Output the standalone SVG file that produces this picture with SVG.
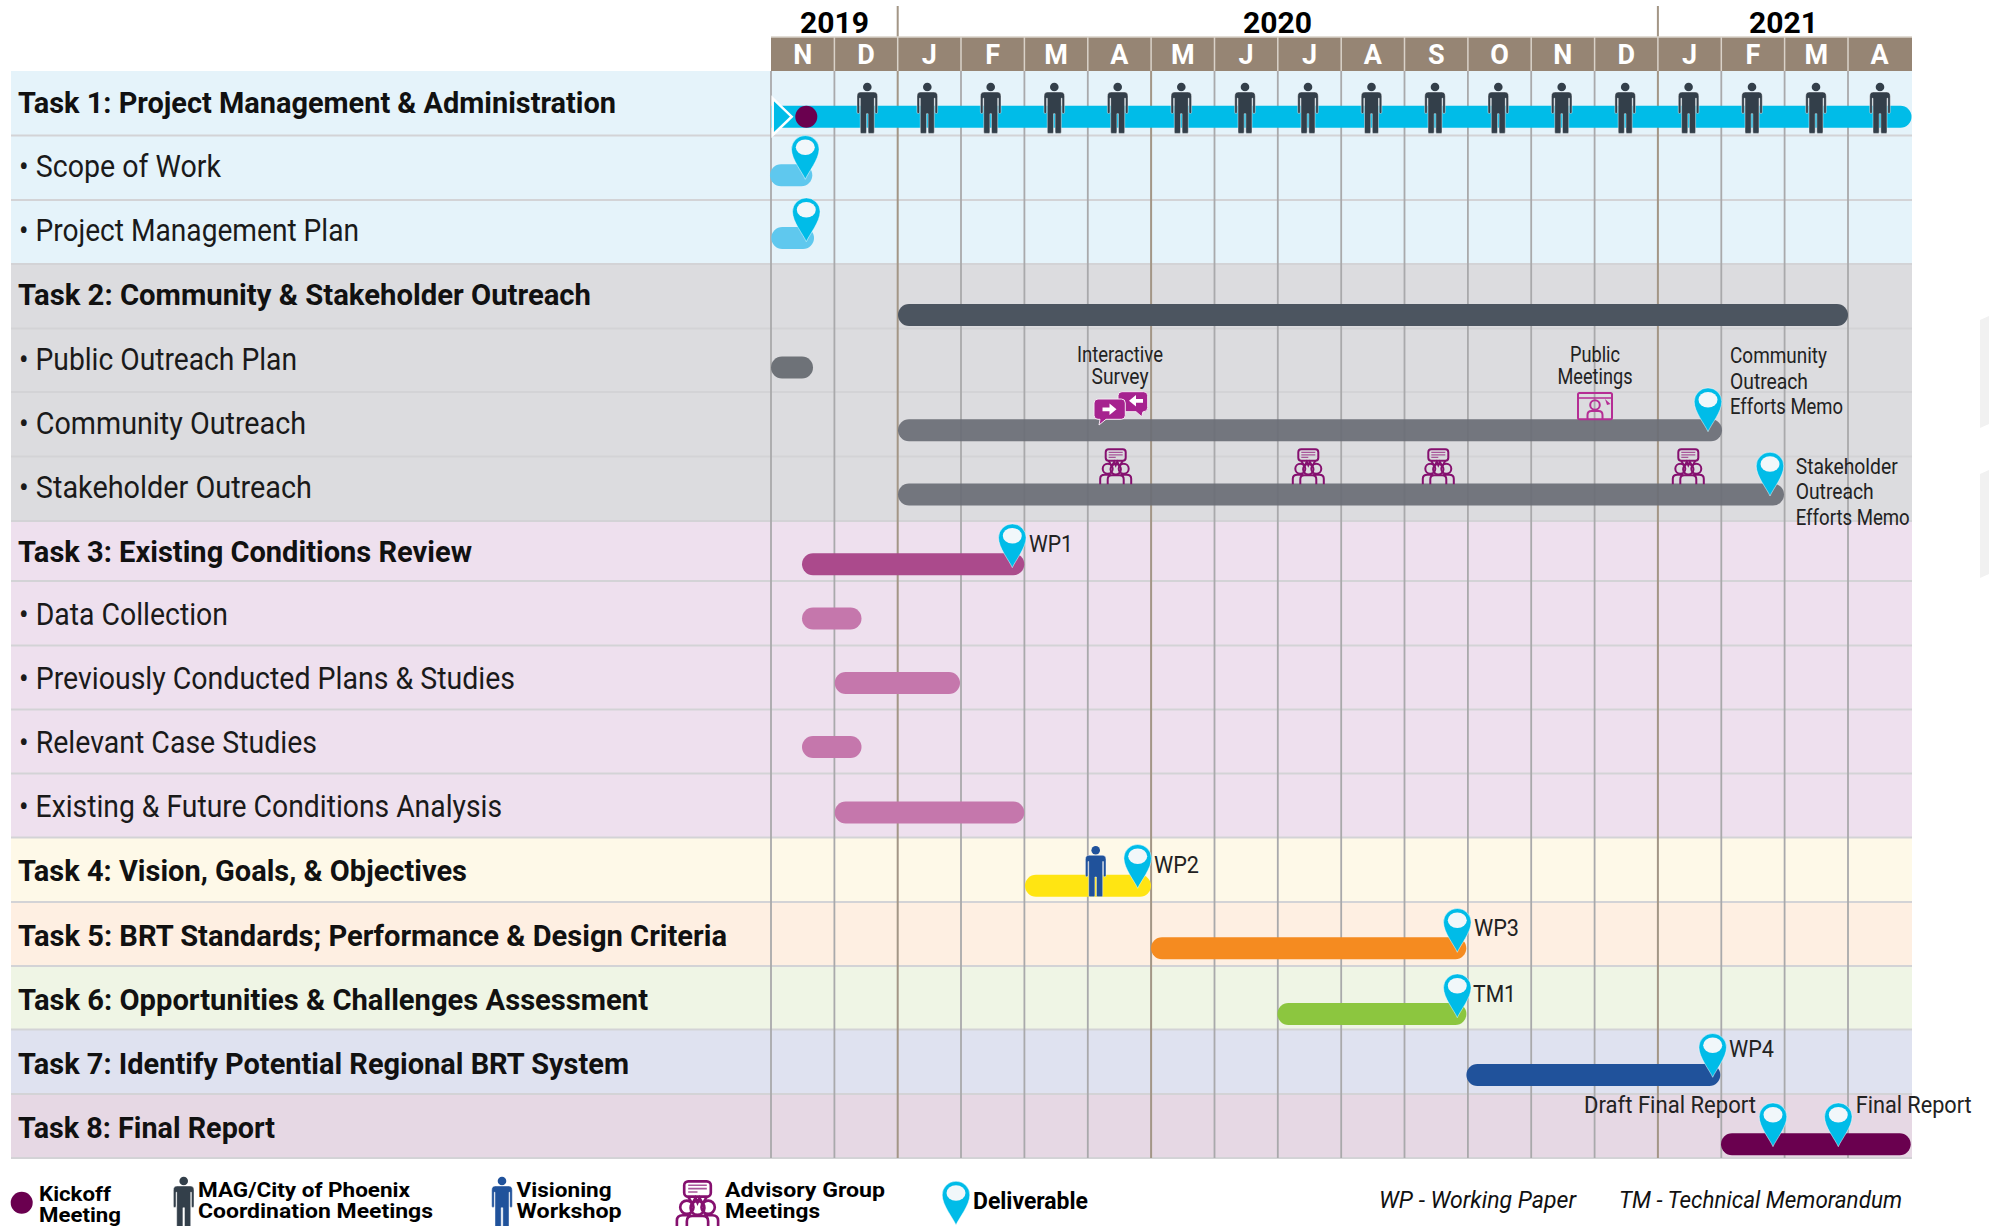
<svg xmlns="http://www.w3.org/2000/svg" width="1989" height="1226" viewBox="0 0 1989 1226">
<style>
text{font-family:"Roboto","Liberation Sans",sans-serif;fill:#111}
.t{font-size:30px;font-weight:700}
.s{font-size:31px;font-weight:400;fill:#1a1a1a}
.l{font-size:22px;font-weight:400;fill:#222}
.r{font-size:24px;font-weight:400;fill:#222}
.m{font-size:27px;font-weight:700;fill:#fff;text-anchor:middle}
.y{font-size:30px;font-weight:700;fill:#000}
.g{font-size:20.5px;font-weight:700;fill:#000}
.d{font-size:23px;font-weight:700;fill:#000}
.i{font-size:24px;font-style:italic;fill:#111}
.v{stroke:#a9a9ab;stroke-width:1.8;fill:none}
.vb{stroke:#a39686;stroke-width:2;fill:none}
.h{stroke:#d3d3d6;stroke-width:1.8;fill:none}
.gr{fill:none;stroke:#85106f;stroke-width:2}
.b{stroke:#b52d94;stroke-width:2;fill:none}
</style>
<defs>
<g id="person"><circle cx="0" cy="4.3" r="4.3"/><path d="M-6.5 9.3H6.5Q10.3 9.3 10.3 13.5V29.5a1.3 1.3 0 0 1-2.6 0V15.5H7V49.5a1.2 1.2 0 0 1-1.2 1.2H2a1.2 1.2 0 0 1-1.2-1.2V31H-.8V49.5a1.2 1.2 0 0 1-1.2 1.2H-5.8a1.2 1.2 0 0 1-1.2-1.2V15.5H-7.7V29.5a1.3 1.3 0 0 1-2.6 0V13.5Q-10.3 9.3-6.5 9.3Z" stroke="#fff" stroke-opacity=".55" stroke-width=".8"/></g>
<g id="pin"><path d="M0 0C-3-7-13.8-20-13.8-30A13.8 13.8 0 1 1 13.8-30C13.8-20 3-7 0 0Z" fill="#00bce8" stroke="#fff" stroke-opacity=".6" stroke-width=".8"/><ellipse cx="0" cy="-32" rx="9.5" ry="7.8" fill="#f1f7fa"/></g>
<g id="group"><rect x="-10" y="1" width="20" height="11.5" rx="3" class="gr"/><path d="M-7 12.5L-4 18-1.5 13.5 0 17 1.5 13.5 4 18 7 12.5" class="gr"/><path d="M-7 4H7M-7 6.500H7M-7 9H0" fill="none" stroke="#a8559a" stroke-width="1.2"/><circle cx="0" cy="21" r="5.2" class="gr"/><circle cx="-8" cy="20.5" r="5" class="gr"/><circle cx="8" cy="20.5" r="5" class="gr"/><path d="M-15.5 36V30.5Q-15.5 26.5-11 26.5H-5M15.5 36V30.5Q15.5 26.5 11 26.5H5M-8 36V31Q-8 27-4 27H4Q8 27 8 31V36" class="gr"/></g>
</defs>

<g id="rows">
<rect x="11" y="71" width="1901" height="193" fill="#e5f3fa"/>
<rect x="11" y="264" width="1901" height="257" fill="#dcdcdf"/>
<rect x="11" y="521" width="1901" height="316" fill="#eee0ee"/>
<rect x="11" y="837" width="1901" height="65" fill="#fef9e8"/>
<rect x="11" y="902" width="1901" height="64" fill="#feefe2"/>
<rect x="11" y="966" width="1901" height="64" fill="#eff5e5"/>
<rect x="11" y="1030" width="1901" height="64" fill="#dfe2f0"/>
<rect x="11" y="1094" width="1901" height="64" fill="#e6d8e4"/>
<path class="h" d="M11 135.500H1912M11 200H1912M11 264H1912M11 328.500H1912M11 392H1912M11 456.500H1912M11 521H1912M11 581H1912M11 645.500H1912M11 709.500H1912M11 773.500H1912M11 837.500H1912M11 902H1912M11 966H1912M11 1029.500H1912M11 1094H1912M11 1158H1912"/>
</g>

<g id="grid">
<path class="v" d="M771 71V1158M834.400 71V1158M961 71V1158M1024.400 71V1158M1087.800 71V1158M1214.500 71V1158M1277.800 71V1158M1341.200 71V1158M1404.500 71V1158M1467.900 71V1158M1531.200 71V1158M1594.600 71V1158M1721.300 71V1158M1784.600 71V1158M1848 71V1158"/>
<path class="vb" d="M897.700 6V1158M1151.100 71V1158M1657.900 6V1158"/>
</g>

<g id="header">
<rect x="771" y="37" width="1141" height="34" fill="#968574"/>
<path d="M771 37H1912M834.400 37V71M897.700 37V71M961 37V71M1024.400 37V71M1087.800 37V71M1151.100 37V71M1214.500 37V71M1277.800 37V71M1341.200 37V71M1404.500 37V71M1467.900 37V71M1531.200 37V71M1594.600 37V71M1657.900 37V71M1721.300 37V71M1784.600 37V71M1848 37V71" stroke="#d9d2c9" stroke-width="1.5" fill="none"/>
<text class="y" x="800" y="33" textLength="69" lengthAdjust="spacingAndGlyphs">2019</text>
<text class="y" x="1243" y="33" textLength="69" lengthAdjust="spacingAndGlyphs">2020</text>
<text class="y" x="1749" y="33" textLength="69" lengthAdjust="spacingAndGlyphs">2021</text>
<text class="m" x="802.700" y="63.500">N</text><text class="m" x="866" y="63.500">D</text><text class="m" x="929.400" y="63.500">J</text><text class="m" x="992.700" y="63.500">F</text><text class="m" x="1056.100" y="63.500">M</text><text class="m" x="1119.400" y="63.500">A</text><text class="m" x="1182.800" y="63.500">M</text><text class="m" x="1246.100" y="63.500">J</text><text class="m" x="1309.500" y="63.500">J</text><text class="m" x="1372.800" y="63.500">A</text><text class="m" x="1436.200" y="63.500">S</text><text class="m" x="1499.500" y="63.500">O</text><text class="m" x="1562.900" y="63.500">N</text><text class="m" x="1626.200" y="63.500">D</text><text class="m" x="1689.600" y="63.500">J</text><text class="m" x="1752.900" y="63.500">F</text><text class="m" x="1816.300" y="63.500">M</text><text class="m" x="1879.600" y="63.500">A</text>
</g>

<g id="labels">
<text class="t" x="18" y="112.500" textLength="598" lengthAdjust="spacingAndGlyphs">Task 1: Project Management &amp; Administration</text>
<text class="s" x="19" y="176.500" textLength="202" lengthAdjust="spacingAndGlyphs">• Scope of Work</text>
<text class="s" x="19" y="241" textLength="340" lengthAdjust="spacingAndGlyphs">• Project Management Plan</text>
<text class="t" x="18" y="305" textLength="573" lengthAdjust="spacingAndGlyphs">Task 2: Community &amp; Stakeholder Outreach</text>
<text class="s" x="19" y="370" textLength="278" lengthAdjust="spacingAndGlyphs">• Public Outreach Plan</text>
<text class="s" x="19" y="434" textLength="287" lengthAdjust="spacingAndGlyphs">• Community Outreach</text>
<text class="s" x="19" y="498" textLength="293" lengthAdjust="spacingAndGlyphs">• Stakeholder Outreach</text>
<text class="t" x="18" y="562" textLength="454" lengthAdjust="spacingAndGlyphs">Task 3: Existing Conditions Review</text>
<text class="s" x="19" y="625" textLength="209" lengthAdjust="spacingAndGlyphs">• Data Collection</text>
<text class="s" x="19" y="689" textLength="496" lengthAdjust="spacingAndGlyphs">• Previously Conducted Plans &amp; Studies</text>
<text class="s" x="19" y="753" textLength="298" lengthAdjust="spacingAndGlyphs">• Relevant Case Studies</text>
<text class="s" x="19" y="817" textLength="483" lengthAdjust="spacingAndGlyphs">• Existing &amp; Future Conditions Analysis</text>
<text class="t" x="18" y="881" textLength="449" lengthAdjust="spacingAndGlyphs">Task 4: Vision, Goals, &amp; Objectives</text>
<text class="t" x="18" y="945.500" textLength="709" lengthAdjust="spacingAndGlyphs">Task 5: BRT Standards; Performance &amp; Design Criteria</text>
<text class="t" x="18" y="1009.500" textLength="630" lengthAdjust="spacingAndGlyphs">Task 6: Opportunities &amp; Challenges Assessment</text>
<text class="t" x="18" y="1073.500" textLength="611" lengthAdjust="spacingAndGlyphs">Task 7: Identify Potential Regional BRT System</text>
<text class="t" x="18" y="1138" textLength="257" lengthAdjust="spacingAndGlyphs">Task 8: Final Report</text>
</g>

<g id="connectors">
<path d="M771 105.700H1900.500a11 11 0 0 1 0 22H771Z" fill="#00bce8"/>
<rect x="770" y="164.300" width="42.300" height="22" rx="11" fill="#5fc8ee"/>
<rect x="771.300" y="227" width="42.700" height="22" rx="11" fill="#5fc8ee"/>
<rect x="898" y="304" width="950" height="22" rx="11" fill="#4c5560"/>
<rect x="771" y="356.500" width="42" height="22" rx="11" fill="#6e7278"/>
<rect x="898" y="419.300" width="824" height="22" rx="11" fill="#6b6e76" fill-opacity=".93"/>
<rect x="898" y="483.500" width="886" height="22" rx="11" fill="#6b6e76" fill-opacity=".93"/>
<rect x="802" y="553.300" width="222.300" height="22" rx="11" fill="#ab4a8c"/>
<rect x="802" y="607.500" width="59.500" height="22" rx="11" fill="#c577ac"/>
<rect x="834.700" y="672" width="125.300" height="22" rx="11" fill="#c577ac"/>
<rect x="802" y="736" width="59.500" height="22" rx="11" fill="#c577ac"/>
<rect x="834.700" y="801.500" width="189.600" height="22" rx="11" fill="#c577ac"/>
<rect x="1025" y="874.700" width="126" height="22" rx="11" fill="#ffe512"/>
<rect x="1151" y="937.300" width="315.300" height="22" rx="11" fill="#f58b20"/>
<rect x="1277.400" y="1003" width="189" height="22" rx="11" fill="#8cc63f"/>
<rect x="1466.400" y="1064" width="253.900" height="22" rx="11" fill="#20529b"/>
<rect x="1721" y="1133.300" width="189.700" height="22" rx="11" fill="#6a004f"/>
</g>

<g id="kickoff">
<path d="M772.700 98.300L791.700 116.700 772.700 135Z" fill="#00bce8" stroke="#fff" stroke-width="2.5"/>
<circle cx="806.300" cy="116.700" r="11" fill="#6a004f"/>
</g>

<g id="coordination-meetings" fill="#333f4a">
<use href="#person" x="867.300" y="82.700"/><use href="#person" x="927.300" y="82.700"/><use href="#person" x="990.700" y="82.700"/><use href="#person" x="1054.300" y="82.700"/><use href="#person" x="1117.700" y="82.700"/><use href="#person" x="1181.300" y="82.700"/><use href="#person" x="1245" y="82.700"/><use href="#person" x="1308" y="82.700"/><use href="#person" x="1371.500" y="82.700"/><use href="#person" x="1435" y="82.700"/><use href="#person" x="1498.300" y="82.700"/><use href="#person" x="1561.700" y="82.700"/><use href="#person" x="1625.200" y="82.700"/><use href="#person" x="1688.600" y="82.700"/><use href="#person" x="1752" y="82.700"/><use href="#person" x="1816" y="82.700"/><use href="#person" x="1880" y="82.700"/>
</g>

<g id="visioning-workshop" fill="#20529b"><use href="#person" x="1095.700" y="846"/></g>

<g id="advisory-meetings">
<use href="#group" x="1115.700" y="448.300"/><use href="#group" x="1308.300" y="448.300"/><use href="#group" x="1438.300" y="448.300"/><use href="#group" x="1688.300" y="448.300"/>
</g>

<g id="interactive-survey">
<path d="M1122 391.700H1143.700a4 4 0 0 1 4 4V407.700a4 4 0 0 1-4 4H1143L1141.700 416.700 1136 411.700H1122a4 4 0 0 1-4-4V395.700a4 4 0 0 1 4-4Z" fill="#a6228f" stroke="#f4e9f2" stroke-width="1"/>
<path d="M1098 399H1121.300a4 4 0 0 1 4 4V415.300a4 4 0 0 1-4 4H1106L1099 425 1100 419.300H1098a4 4 0 0 1-4-4V403a4 4 0 0 1 4-4Z" fill="#a6228f" stroke="#f4e9f2" stroke-width="1"/>
<path d="M1102.500 407.500H1109.500V403.500L1116.500 409.300 1109.500 415V411.200H1102.500Z" fill="#fff"/>
<path d="M1143 399H1136V395L1129 400.700 1136 406.500V402.700H1143Z" fill="#fff"/>
<text class="l" x="1120" y="362" text-anchor="middle" textLength="86" lengthAdjust="spacingAndGlyphs">Interactive</text>
<text class="l" x="1120" y="384" text-anchor="middle" textLength="57" lengthAdjust="spacingAndGlyphs">Survey</text>
</g>

<g id="public-meetings">
<rect x="1578" y="393" width="34" height="26.300" rx="1.5" class="b"/>
<path d="M1578 398H1612" class="b" style="stroke-width:1.5"/>
<circle cx="1595" cy="405" r="4.8" class="b"/>
<path d="M1587.500 419V415Q1587.500 411 1591.500 411H1598.500Q1602.500 411 1602.500 415V419" class="b"/>
<path d="M1605 399L1610.500 404 1607 405Z" fill="#b52d94"/>
<text class="l" x="1595" y="362" text-anchor="middle" textLength="50" lengthAdjust="spacingAndGlyphs">Public</text>
<text class="l" x="1595" y="384" text-anchor="middle" textLength="75" lengthAdjust="spacingAndGlyphs">Meetings</text>
</g>

<g id="deliverables">
<use href="#pin" x="805.300" y="179.300"/><use href="#pin" x="806.300" y="241.700"/><use href="#pin" x="1708" y="431.700"/><use href="#pin" x="1770" y="496"/><use href="#pin" x="1012.300" y="567.700"/><use href="#pin" x="1137.700" y="888.300"/><use href="#pin" x="1457.300" y="952.300"/><use href="#pin" x="1457.300" y="1017.700"/><use href="#pin" x="1712.700" y="1077.300"/><use href="#pin" x="1773" y="1146.700"/><use href="#pin" x="1838.300" y="1146.700"/>
<text class="l" x="1730" y="363" textLength="97" lengthAdjust="spacingAndGlyphs">Community</text>
<text class="l" x="1730" y="388.500" textLength="78" lengthAdjust="spacingAndGlyphs">Outreach</text>
<text class="l" x="1730" y="413.500" textLength="113" lengthAdjust="spacingAndGlyphs">Efforts Memo</text>
<text class="l" x="1795.700" y="474" textLength="102" lengthAdjust="spacingAndGlyphs">Stakeholder</text>
<text class="l" x="1795.700" y="499" textLength="78" lengthAdjust="spacingAndGlyphs">Outreach</text>
<text class="l" x="1795.700" y="525" textLength="114" lengthAdjust="spacingAndGlyphs">Efforts Memo</text>
<text class="r" x="1029" y="551.500" textLength="44" lengthAdjust="spacingAndGlyphs">WP1</text>
<text class="r" x="1154" y="872.500" textLength="45" lengthAdjust="spacingAndGlyphs">WP2</text>
<text class="r" x="1474" y="936" textLength="45" lengthAdjust="spacingAndGlyphs">WP3</text>
<text class="r" x="1473" y="1002" textLength="43" lengthAdjust="spacingAndGlyphs">TM1</text>
<text class="r" x="1729" y="1057" textLength="45" lengthAdjust="spacingAndGlyphs">WP4</text>
<text class="r" x="1584" y="1112.500" textLength="172" lengthAdjust="spacingAndGlyphs">Draft Final Report</text>
<text class="r" x="1855.700" y="1112.500" textLength="116" lengthAdjust="spacingAndGlyphs">Final Report</text>
</g>

<g id="legend">
<circle cx="21.700" cy="1202.700" r="11" fill="#6a004f"/>
<text class="g" x="39" y="1200.500" textLength="72" lengthAdjust="spacingAndGlyphs">Kickoff</text>
<text class="g" x="39" y="1221.500" textLength="82" lengthAdjust="spacingAndGlyphs">Meeting</text>
<use href="#person" x="183.700" y="1176.700" fill="#333f4a"/>
<text class="g" x="198" y="1196.500" textLength="212" lengthAdjust="spacingAndGlyphs">MAG/City of Phoenix</text>
<text class="g" x="198" y="1217.500" textLength="235" lengthAdjust="spacingAndGlyphs">Coordination Meetings</text>
<use href="#person" x="502" y="1176.700" fill="#20529b"/>
<text class="g" x="516.600" y="1196.500" textLength="95" lengthAdjust="spacingAndGlyphs">Visioning</text>
<text class="g" x="516.600" y="1217.500" textLength="105" lengthAdjust="spacingAndGlyphs">Workshop</text>
<use href="#group" transform="translate(697.500 1180) scale(1.33)"/>
<text class="g" x="725" y="1196.500" textLength="160" lengthAdjust="spacingAndGlyphs">Advisory Group</text>
<text class="g" x="725" y="1217.500" textLength="95" lengthAdjust="spacingAndGlyphs">Meetings</text>
<use href="#pin" x="956" y="1225"/>
<text class="d" x="973" y="1208.500" textLength="115" lengthAdjust="spacingAndGlyphs">Deliverable</text>
<text class="i" x="1379" y="1208" textLength="197" lengthAdjust="spacingAndGlyphs">WP - Working Paper</text>
<text class="i" x="1619" y="1208" textLength="283" lengthAdjust="spacingAndGlyphs">TM - Technical Memorandum</text>
</g>

<g id="margin-shapes" fill="#f1f1f1">
<path d="M1980 320L1989 316V424L1980 428Z"/>
<path d="M1980 474L1989 470V574L1980 578Z"/>
</g>
</svg>
